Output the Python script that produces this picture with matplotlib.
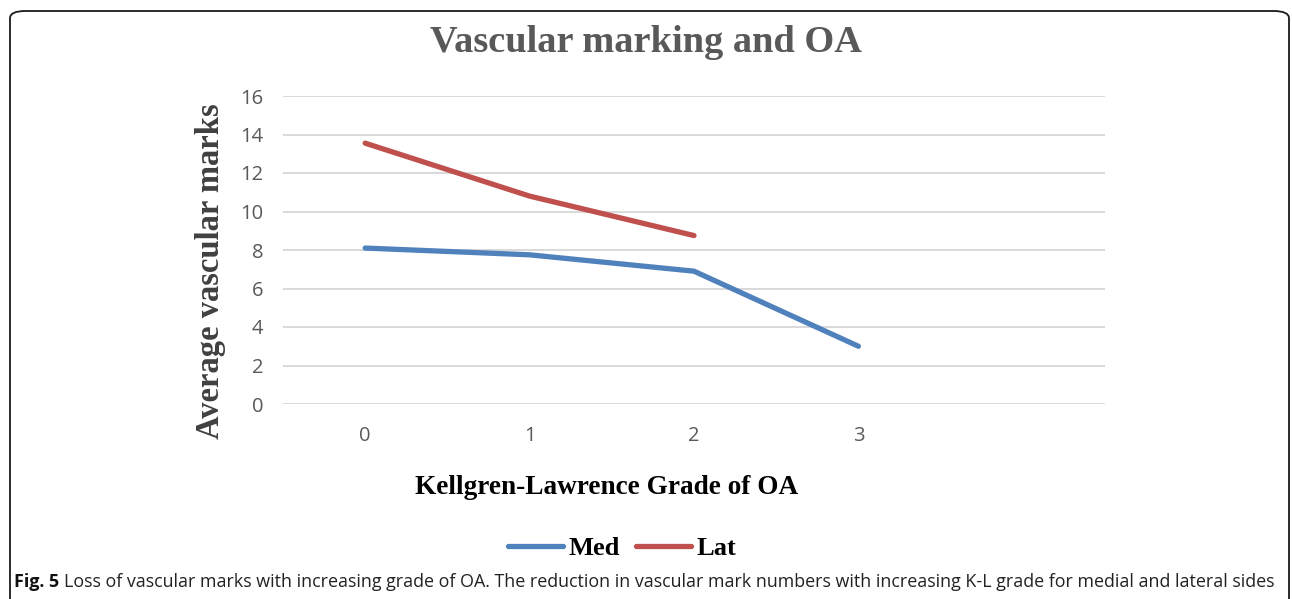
import matplotlib
matplotlib.use('Agg')
import matplotlib.pyplot as plt
from matplotlib.patches import FancyBboxPatch
import numpy as np

# data
grades = [0, 1, 2, 3, 4]
grade_labels = ['0', '1', '2', '3', '']
med = [8.1, 7.75, 6.9, 3.0]
lat = [13.55, 10.8, 8.75]
yticks = [0, 2, 4, 6, 8, 10, 12, 14, 16]

W, H = 1292, 599
fig = plt.figure(figsize=(W / 100, H / 100), dpi=100)

def fx(px):
    return px / W

def fy(py):
    return 1 - py / H

# outer rounded frame (runs off the bottom)
frame = FancyBboxPatch((fx(10), fy(640)), fx(1279), (640 - 11) / H,
                       boxstyle='round,pad=0,rounding_size=0.012',
                       transform=fig.transFigure, fill=False,
                       edgecolor='#1a1a1a', linewidth=1.3, clip_on=False)
fig.patches.append(frame)

ax = fig.add_axes([fx(283), fy(404), fx(1105 - 283), (404 - 96) / H])
ax.plot(grades[:len(med)], med, color='#4F81BD', lw=3.8, solid_capstyle='round', label='Med', zorder=3)
ax.plot(grades[:len(lat)], lat, color='#C0504D', lw=3.8, solid_capstyle='round', label='Lat', zorder=3)

ax.set_xlim(-0.5, 4.5)
ax.set_ylim(0, 16)
ax.set_yticks(yticks)
ax.set_xticks(grades)
ax.set_xticklabels(grade_labels)
ax.grid(axis='y', color='#D9D9D9', lw=1.4)
ax.set_axisbelow(True)
for s in ax.spines.values():
    s.set_visible(False)
ax.tick_params(length=0, labelsize=14.5, labelcolor='#595959')
ax.tick_params(axis='y', pad=14)
ax.tick_params(axis='x', pad=16)
for lbl in ax.get_xticklabels() + ax.get_yticklabels():
    lbl.set_fontfamily('Open Sans')

serif = 'Liberation Serif'
fig.text(fx(646), fy(43), 'Vascular marking and OA', ha='center', va='center',
         fontsize=27.6, fontweight='bold', family=serif, color='#595959')
fig.text(fx(210), fy(271), 'Average vascular marks', ha='center', va='center', rotation=90,
         fontsize=23.5, fontweight='bold', family=serif, color='#404040')
fig.text(fx(607), fy(487), 'Kellgren-Lawrence Grade of OA', ha='center', va='center',
         fontsize=19.6, fontweight='bold', family=serif, color='black')

leg = fig.legend(loc='center', bbox_to_anchor=(fx(622), fy(548)), ncol=2, frameon=False,
                 prop={'family': serif, 'weight': 'bold', 'size': 19},
                 handlelength=2.1, handletextpad=0.2, columnspacing=0.6)

# caption: bold "Fig. 5" then regular text
cap_fam = 'Open Sans'
t1 = fig.text(fx(14), fy(582), 'Fig. 5', ha='left', va='center', fontsize=12.9,
              fontweight='bold', family=cap_fam, color='#111111')
fig.canvas.draw()
bb = t1.get_window_extent()
fig.text(fx(bb.x1 + 5), fy(582),
         'Loss of vascular marks with increasing grade of OA. The reduction in vascular mark numbers with increasing K-L grade for medial and lateral sides',
         ha='left', va='center', fontsize=12.9, family=cap_fam, color='#222222')

fig.savefig('out.png', dpi=100)
